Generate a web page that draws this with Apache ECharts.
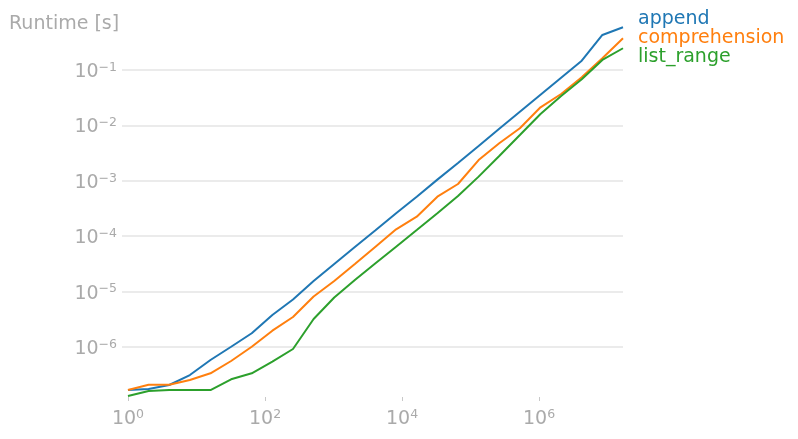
<!DOCTYPE html>
<html>
<head>
<meta charset="utf-8">
<script src="https://cdn.jsdelivr.net/npm/echarts@6/dist/echarts.min.js"></script>
<style>html,body{margin:0;padding:0;background:#fff;}#c{width:798px;height:439px;}</style>
</head>
<body>
<div id="c"></div>
<script>
const sizes = [1, 2, 4, 8, 16, 32, 64, 128, 256, 512, 1024, 2048, 4096, 8192, 16384, 32768,
  65536, 131072, 262144, 524288, 1048576, 2097152, 4194304, 8388608, 16777216];
const append = [1.67e-7, 1.75e-7, 2.06e-7, 3.12e-7, 5.82e-7, 1.01e-6, 1.77e-6, 3.78e-6, 7.20e-6,
  1.55e-5, 3.15e-5, 6.38e-5, 1.28e-4, 2.59e-4, 5.16e-4, 1.05e-3, 2.10e-3, 4.25e-3, 8.71e-3,
  1.77e-2, 3.58e-2, 7.26e-2, 0.147, 0.429, 0.590];
const comprehension = [1.67e-7, 2.09e-7, 2.09e-7, 2.54e-7, 3.35e-7, 5.59e-7, 1.01e-6, 1.97e-6, 3.48e-6,
  8.16e-6, 1.55e-5, 3.15e-5, 6.47e-5, 1.33e-4, 2.25e-4, 5.16e-4, 8.75e-4, 2.37e-3, 4.75e-3,
  8.87e-3, 2.12e-2, 3.69e-2, 7.38e-2, 0.163, 0.373];
const listRange = [1.31e-7, 1.61e-7, 1.67e-7, 1.67e-7, 1.67e-7, 2.61e-7, 3.35e-7, 5.43e-7, 9.20e-7,
  3.20e-6, 7.83e-6, 1.62e-5, 3.24e-5, 6.47e-5, 1.29e-4, 2.59e-4, 5.32e-4, 1.19e-3, 2.80e-3,
  6.71e-3, 1.61e-2, 3.39e-2, 6.79e-2, 0.152, 0.247];
const seriesNames = ['append', 'comprehension', 'list_range'];
const colors = ['#1f77b4', '#ff7f0e', '#2ca02c'];
const xTicks = [1, 100, 10000, 1000000];
const yTicks = [1e-6, 1e-5, 1e-4, 1e-3, 1e-2, 1e-1];
const yTitle = 'Runtime [s]';

const gray = '#aaaaaa';
function pow10Label(v) {
  const e = Math.round(Math.log10(v));
  const s = (e < 0 ? '\u2212' : '') + Math.abs(e);
  return '{b|10}{s|' + s + '}';
}
const rich = {
  b: {fontSize: 19, lineHeight: 22, color: gray, fontFamily: 'DejaVu Sans'},
  s: {fontSize: 12.5, lineHeight: 12, color: gray, fontFamily: 'DejaVu Sans', verticalAlign: 'top'}
};
const pair = (arr) => sizes.map((x, i) => [x, arr[i]]);
const chart = echarts.init(document.getElementById('c'), null, {renderer: 'canvas'});
chart.setOption({
  animation: false,
  backgroundColor: '#fff',
  title: {
    text: yTitle, left: 9, top: 15, padding: 0,
    textStyle: {fontSize: 19, fontWeight: 'normal', color: gray, fontFamily: 'DejaVu Sans'}
  },
  legend: {
    orient: 'vertical', left: 633, top: 10, padding: 0, itemGap: 0,
    itemWidth: 0, itemHeight: 19, icon: 'none', selectedMode: false,
    textStyle: {fontSize: 19, lineHeight: 19, fontFamily: 'DejaVu Sans'},
    data: seriesNames.map((n, i) => ({name: n, textStyle: {color: colors[i]}}))
  },
  grid: {left: 122, top: 20, width: 501, height: 377, containLabel: false},
  xAxis: {
    type: 'log', logBase: 10, min: 0.818, max: 16777216,
    axisLine: {show: false},
    axisTick: {show: true, length: 4, inside: false, lineStyle: {color: '#c8c8c8', width: 1}, customValues: xTicks},
    axisLabel: {margin: 11, customValues: xTicks, formatter: pow10Label, rich: rich},
    splitLine: {show: false},
    minorTick: {show: false}
  },
  yAxis: {
    type: 'log', logBase: 10, min: 1.252e-7, max: 0.799,
    axisLine: {show: false},
    axisTick: {show: false, customValues: yTicks},
    axisLabel: {margin: 5, customValues: yTicks, formatter: pow10Label, rich: rich, padding: [4, 0, 0, 0]},
    splitLine: {show: true, showMinLine: true, showMaxLine: true, lineStyle: {color: '#ebebeb', width: 2}}
  },
  series: seriesNames.map((n, i) => ({
    name: n, type: 'line', data: pair([append, comprehension, listRange][i]),
    showSymbol: false, symbol: 'none', smooth: false,
    lineStyle: {color: colors[i], width: 2}, itemStyle: {color: colors[i]},
    emphasis: {disabled: true}
  }))
});
</script>
</body>
</html>
